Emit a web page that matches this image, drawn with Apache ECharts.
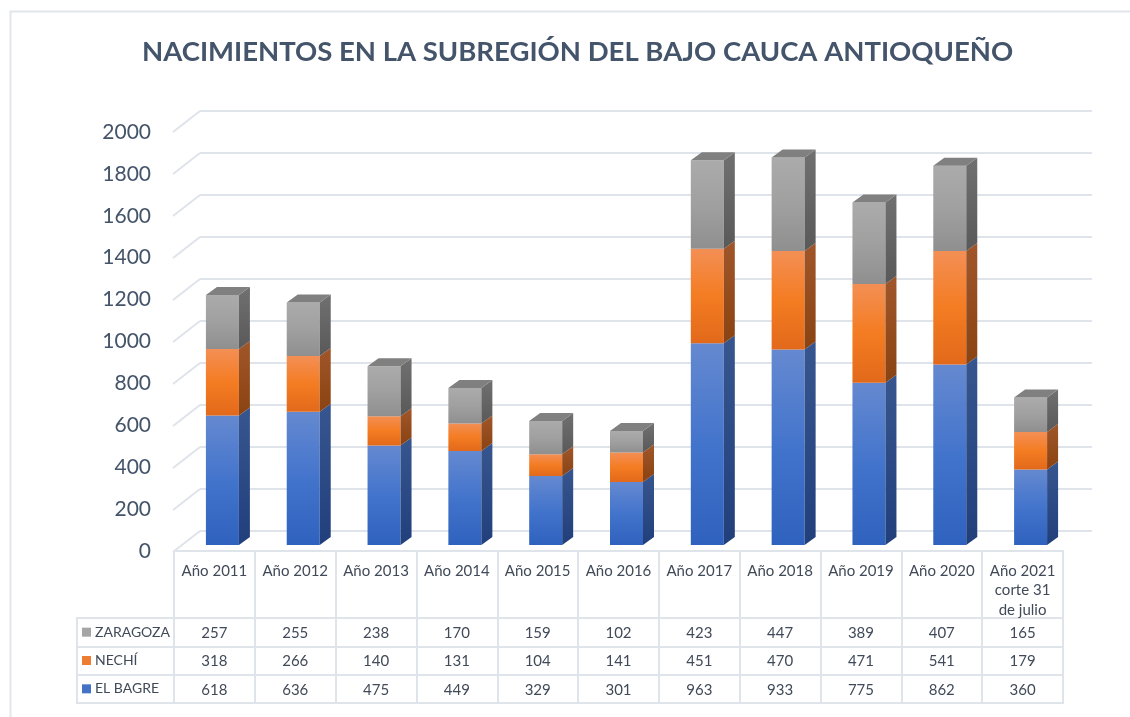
<!DOCTYPE html>
<html>
<head>
<meta charset="utf-8">
<script src="https://cdn.jsdelivr.net/npm/echarts@6/dist/echarts.min.js"></script>
<style>
  html, body { margin: 0; padding: 0; background: #fff; }
  #chart { width: 1130px; height: 717px; }
</style>
</head>
<body>
<div id="chart"></div>
<script>
const years = ['Año 2011', 'Año 2012', 'Año 2013', 'Año 2014', 'Año 2015', 'Año 2016',
  'Año 2017', 'Año 2018', 'Año 2019', 'Año 2020', 'Año 2021\ncorte 31\nde julio']
const elBagre = [618, 636, 475, 449, 329, 301, 963, 933, 775, 862, 360]
const nechi = [318, 266, 140, 131, 104, 141, 451, 470, 471, 541, 179]
const zaragoza = [257, 255, 238, 170, 159, 102, 423, 447, 389, 407, 165]
const yTicks = [0, 200, 400, 600, 800, 1000, 1200, 1400, 1600, 1800, 2000]

const rowNames = ['EL BAGRE', 'NECHÍ', 'ZARAGOZA']
const rowValues = [elBagre, nechi, zaragoza]

const gridColor = '#DFE3EA'
const textColor = '#44546A'
const font = 'Lato, "Open Sans", sans-serif'

// colores de cada serie: cara frontal (arriba, medio, abajo), lateral, tapa
const styles = [
  { front: ['#6589D0', '#4374CC', '#2F62BE'], side: ['#37558E', '#213F7B'], top: '#3A5A98', key: '#4472C4' },
  { front: ['#F38F55', '#F47C22', '#E2691A'], side: ['#A0562A', '#8A4312'], top: '#B05A22', key: '#ED7D31' },
  { front: ['#ABABAB', '#A0A0A0', '#8F8F8F'], side: ['#707070', '#595959'], top: '#808080', key: '#A5A5A5' }
]

const DX = 11, DY = 8, BAR_W = 33

function vgrad(c) {
  return new echarts.graphic.LinearGradient(0, 0, 0, 1, [
    { offset: 0, color: c[0] }, { offset: c.length > 2 ? 0.5 : 1, color: c[1] }
  ].concat(c.length > 2 ? [{ offset: 1, color: c[2] }] : []))
}

// segmentos apilados: [categoria, base, tope, serie, esUltimo]
function stackData(si) {
  return years.map((_, i) => {
    let base = 0
    for (let k = 0; k < si; k++) base += rowValues[k][i]
    return [i, base, base + rowValues[si][i], si, si === rowValues.length - 1 ? 1 : 0]
  })
}

function renderBar(params, api) {
  const i = api.value(0)
  const p0 = api.coord([i, api.value(1)])
  const p1 = api.coord([i, api.value(2)])
  const st = styles[api.value(3)]
  const l = p0[0] - BAR_W / 2, r = l + BAR_W
  const children = [
    { type: 'rect', shape: { x: l, y: p1[1], width: BAR_W, height: p0[1] - p1[1] },
      style: { fill: vgrad(st.front) } },
    { type: 'polygon', shape: { points: [[r, p0[1]], [r + DX, p0[1] - DY], [r + DX, p1[1] - DY], [r, p1[1]]] },
      style: { fill: vgrad(st.side) } }
  ]
  if (api.value(4)) {
    children.push({ type: 'polygon',
      shape: { points: [[l, p1[1]], [l + DX, p1[1] - DY], [r + DX, p1[1] - DY], [r, p1[1]]] },
      style: { fill: st.top } })
  }
  return { type: 'group', children }
}

// diagonales de la pared izquierda
function renderDiag(params, api) {
  const p = api.coord([0, api.value(0)])
  return { type: 'line', shape: { x1: p[0] - 27, y1: p[1] + 21, x2: p[0], y2: p[1] },
    style: { stroke: gridColor, lineWidth: 2 } }
}

const cellData = []
rowValues.forEach((arr, ri) => arr.forEach((v, ci) => cellData.push([ci, ri, v])))

function renderCell(params, api) {
  const p = api.coord([api.value(0), api.value(1)])
  return { type: 'text', x: p[0], y: p[1] + 1,
    style: { text: String(api.value(2)), align: 'center', verticalAlign: 'middle',
      fill: '#404A58', font: '15px ' + font } }
}

const keyRich = {}
rowNames.forEach((n, i) => {
  keyRich['k' + i] = { width: 9, height: 9, backgroundColor: styles[i].key }
})
keyRich.t = { fontFamily: font, fontSize: 14, color: '#404A58', padding: [0, 0, 0, 4] }

const lineStyle = { color: gridColor, width: 2 }
const hidden = { show: false }

const chart = echarts.init(document.getElementById('chart'))
chart.setOption({
  animation: false,
  title: {
    text: 'NACIMIENTOS EN LA SUBREGIÓN DEL BAJO CAUCA ANTIOQUEÑO',
    left: 137, top: 33,
    textStyle: { color: textColor, fontFamily: font, fontWeight: 'bold', fontSize: 27.5 }
  },
  graphic: [{ type: 'rect', shape: { x: 10.5, y: 11.5, width: 1200, height: 800 },
    style: { fill: 'none', stroke: '#E2E6EC', lineWidth: 2 }, silent: true }],
  grid: [
    { left: 200, right: 38, top: 111, bottom: 186 },           // pared del fondo
    { left: 173, width: 1, top: 132, bottom: 166 },            // etiquetas eje y
    { left: 182, right: 59, top: 126, bottom: 172 },           // barras
    { left: 174, right: 67, top: 551, bottom: 99, show: true, borderColor: gridColor, borderWidth: 2 },  // encabezado
    { left: 174, right: 67, top: 618, bottom: 14, show: true, borderColor: gridColor, borderWidth: 2 },  // valores
    { left: 77, width: 97, top: 618, bottom: 14, show: true, borderColor: gridColor, borderWidth: 2 }    // leyenda
  ],
  xAxis: [
    { gridIndex: 0, type: 'value', min: 0, max: 1, show: false },
    { gridIndex: 1, type: 'value', min: 0, max: 1, show: false },
    { gridIndex: 2, type: 'category', data: years, show: false },
    { gridIndex: 3, type: 'category', data: years, position: 'top',
      axisLine: hidden, axisTick: hidden, splitLine: { show: true, lineStyle },
      axisLabel: { inside: true, margin: 10, verticalAlign: 'top', interval: 0,
        color: '#404A58', fontFamily: font, fontSize: 15, lineHeight: 19.5 } },
    { gridIndex: 4, type: 'category', data: years, axisLine: hidden, axisTick: hidden,
      axisLabel: hidden, splitLine: { show: true, lineStyle } },
    { gridIndex: 5, type: 'value', min: 0, max: 1, show: false }
  ],
  yAxis: [
    { gridIndex: 0, type: 'value', min: 0, max: 2000, interval: 200,
      axisLabel: hidden, axisLine: hidden, axisTick: hidden, splitLine: { lineStyle } },
    { gridIndex: 1, type: 'value', min: 0, max: 2000, interval: 200,
      axisLine: hidden, axisTick: hidden, splitLine: hidden,
      axisLabel: { margin: 22, color: textColor, fontFamily: font, fontSize: 21,
        formatter: v => String(v) } },
    { gridIndex: 2, type: 'value', min: 0, max: 2000, show: false },
    { gridIndex: 3, type: 'value', min: 0, max: 1, show: false },
    { gridIndex: 4, type: 'category', data: rowNames, axisLine: hidden, axisTick: hidden,
      splitLine: { show: true, lineStyle },
      axisLabel: { align: 'left', margin: 92,
        formatter: (v, i) => '{k' + i + '|}{t|' + v + '}', rich: keyRich } },
    { gridIndex: 5, type: 'category', data: rowNames, show: true, axisLine: hidden, axisTick: hidden,
      axisLabel: hidden, splitLine: { show: true, lineStyle } }
  ],
  series: [
    { type: 'custom', xAxisIndex: 0, yAxisIndex: 0, data: yTicks.map(v => [v]),
      renderItem: renderDiag, silent: true },
    ...rowNames.map((n, si) => ({
      type: 'custom', name: n, xAxisIndex: 2, yAxisIndex: 2,
      data: stackData(si), renderItem: renderBar, silent: true
    })),
    { type: 'custom', xAxisIndex: 4, yAxisIndex: 4, data: cellData, renderItem: renderCell, silent: true }
  ]
})
</script>
</body>
</html>
